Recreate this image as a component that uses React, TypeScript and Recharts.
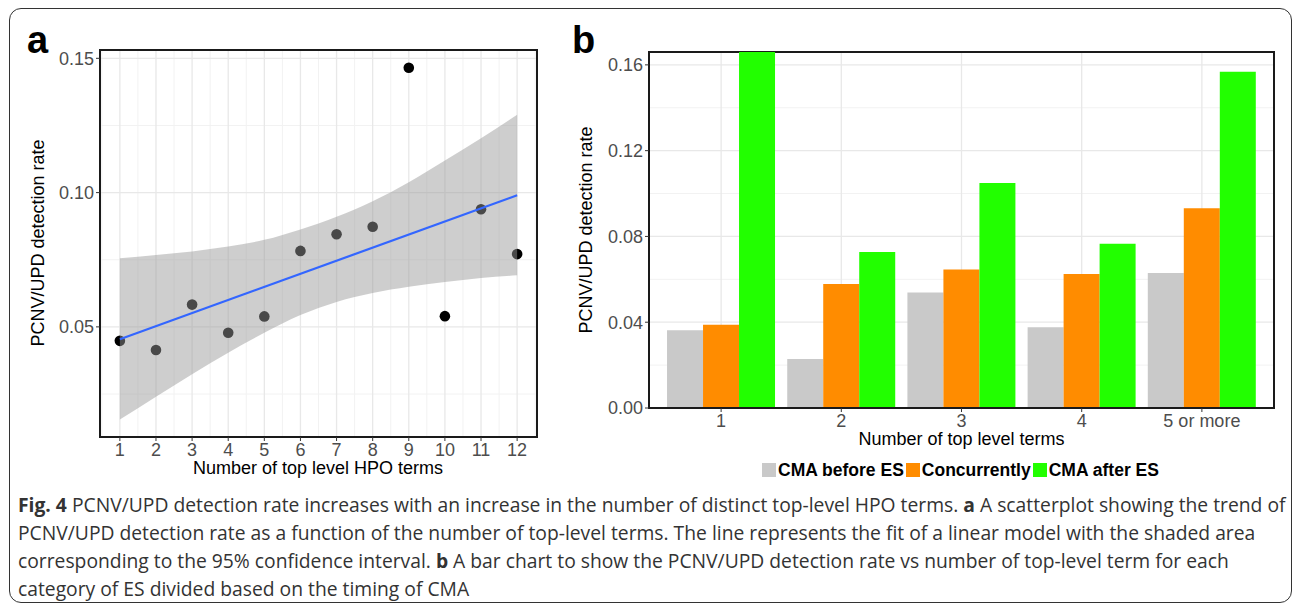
import React from 'react';
import {
  ComposedChart,
  BarChart,
  Bar,
  Scatter,
  Area,
  Line,
  XAxis,
  YAxis,
  CartesianGrid,
  ReferenceArea,
} from 'recharts';

// ---------- Panel a: scatterplot ----------
const hpoTerms = [1, 2, 3, 4, 5, 6, 7, 8, 9, 10, 11, 12];
const detectionRate = [0.0448, 0.0414, 0.0583, 0.0478, 0.0539, 0.0783, 0.0845, 0.0873, 0.1465, 0.054, 0.0938, 0.0771];
const ciLower = [0.0155, 0.024, 0.0324, 0.0404, 0.0478, 0.0544, 0.0593, 0.0626, 0.0649, 0.0667, 0.0682, 0.0692];
const ciUpper = [0.0756, 0.0768, 0.0781, 0.0799, 0.0824, 0.0863, 0.091, 0.0968, 0.1039, 0.112, 0.1202, 0.129];
const fitTerms = [1, 12];
const fitValues = [0.0454, 0.099];

const scatterXDomain = [0.45, 12.55];
const scatterYDomain = [0.009, 0.1531];
const scatterYTicks = [0.05, 0.1, 0.15];
const scatterYMinor = [0.025, 0.075, 0.125];
const scatterXMinor = [0.5, 1.5, 2.5, 3.5, 4.5, 5.5, 6.5, 7.5, 8.5, 9.5, 10.5, 11.5, 12.5];

// ---------- Panel b: bar chart ----------
const termCategories = ['1', '2', '3', '4', '5 or more'];
const categoryPositions = [1, 2, 3, 4, 5];
const cmaBefore = [0.0362, 0.0228, 0.0538, 0.0376, 0.0629];
const concurrently = [0.0388, 0.0578, 0.0646, 0.0625, 0.0931];
const cmaAfter = [0.166, 0.0727, 0.1049, 0.0766, 0.1568];
const seriesNames = ['CMA before ES', 'Concurrently', 'CMA after ES'];
const seriesKeys = ['before', 'conc', 'after'];
const seriesColors = ['#C9C9C9', '#FF8C00', '#22FF00'];
const barXDomain = [0.4, 5.6];
const barYDomain = [0, 0.166];
const barYTicks = [0, 0.04, 0.08, 0.12, 0.16];
const barYMinor = [0.02, 0.06, 0.1, 0.14];

const captionLines = [
  [
    { b: true, t: 'Fig. 4' },
    { b: false, t: ' PCNV/UPD detection rate increases with an increase in the number of distinct top-level HPO terms. ' },
    { b: true, t: 'a' },
    { b: false, t: ' A scatterplot showing the trend of' },
  ],
  [{ b: false, t: 'PCNV/UPD detection rate as a function of the number of top-level terms. The line represents the fit of a linear model with the shaded area' }],
  [
    { b: false, t: 'corresponding to the 95% confidence interval. ' },
    { b: true, t: 'b' },
    { b: false, t: ' A bar chart to show the PCNV/UPD detection rate vs number of top-level term for each' },
  ],
  [{ b: false, t: 'category of ES divided based on the timing of CMA' }],
];

const scatterData = hpoTerms.map((t, i) => ({
  term: t,
  rate: detectionRate[i],
  lo: ciLower[i],
  hi: ciUpper[i],
  fit: fitTerms.indexOf(t) >= 0 ? fitValues[fitTerms.indexOf(t)] : null,
}));

const barData = termCategories.map((c, i) => ({
  pos: categoryPositions[i],
  cat: c,
  before: cmaBefore[i],
  conc: concurrently[i],
  after: cmaAfter[i],
}));

const FONT = "'Liberation Sans', Arial, Helvetica, sans-serif";
const tickStyle = { fill: '#4D4D4D', fontSize: 18, fontFamily: FONT };
const tickLineStyle = { stroke: '#333333', strokeWidth: 1 };
const frame = { stroke: '#1A1A1A', strokeWidth: 2 };
const fmt2 = (v: number) => v.toFixed(2);
const catLabel = (v: number) => termCategories[categoryPositions.indexOf(v)] ?? '';

const abs = (left: number, top: number, extra: React.CSSProperties = {}): React.CSSProperties => ({
  position: 'absolute',
  left,
  top,
  ...extra,
});

function RotatedTitle({ x, y, text }: { x: number; y: number; text: string }) {
  return (
    <div
      style={abs(x, y, {
        transform: 'translate(-50%, -50%) rotate(-90deg)',
        whiteSpace: 'nowrap',
        fontFamily: FONT,
        fontSize: 18,
        color: '#000',
        lineHeight: '20px',
      })}
    >
      {text}
    </div>
  );
}

function CenterTitle({ x, y, text }: { x: number; y: number; text: string }) {
  return (
    <div
      style={abs(x, y, {
        transform: 'translate(-50%, -50%)',
        whiteSpace: 'nowrap',
        fontFamily: FONT,
        fontSize: 18,
        color: '#000',
        lineHeight: '20px',
      })}
    >
      {text}
    </div>
  );
}

export default function App() {
  const areaProps: any = { zIndex: 700 };
  const lineProps: any = { zIndex: 800 };
  return (
    <div style={abs(0, 0, { width: 1293, height: 605, background: '#fff', overflow: 'hidden' })}>
      {/* outer frame */}
      <div
        style={abs(9, 8, {
          width: 1283,
          height: 595,
          boxSizing: 'border-box',
          border: '1.5px solid #333',
          borderRadius: 12,
        })}
      />

      {/* Panel a */}
      <div style={abs(0, 0)}>
        <ComposedChart width={560} height={490} data={scatterData} margin={{ top: 50, right: 23, bottom: 23, left: 40 }}>
          <CartesianGrid
            horizontalValues={scatterYMinor}
            verticalValues={scatterXMinor}
            stroke="#F2F2F2"
            strokeWidth={1}
          />
          <CartesianGrid
            horizontalValues={scatterYTicks}
            verticalValues={hpoTerms}
            stroke="#E8E8E8"
            strokeWidth={1.3}
          />
          <XAxis
            dataKey="term"
            type="number"
            domain={scatterXDomain}
            ticks={hpoTerms}
            allowDataOverflow
            height={30}
            tick={tickStyle}
            tickSize={4}
            tickMargin={2}
            tickLine={tickLineStyle}
            axisLine={frame}
            interval={0}
          />
          <YAxis
            type="number"
            domain={scatterYDomain}
            ticks={scatterYTicks}
            allowDataOverflow
            width={60}
            tick={tickStyle}
            tickFormatter={fmt2}
            tickSize={4}
            tickMargin={2}
            tickLine={tickLineStyle}
            axisLine={frame}
          />
          <Scatter
            dataKey="rate"
            isAnimationActive={false}
            shape={(p: any) => <circle cx={p.cx} cy={p.cy} r={5.3} fill="#000" />}
          />
          <Area
            {...areaProps}
            dataKey={(d: any) => [d.lo, d.hi]}
            type="monotone"
            stroke="none"
            fill="#999999"
            fillOpacity={0.48}
            isAnimationActive={false}
            activeDot={false}
          />
          <Line
            {...lineProps}
            dataKey="fit"
            type="linear"
            connectNulls
            stroke="#3366FF"
            strokeWidth={2.2}
            dot={false}
            activeDot={false}
            isAnimationActive={false}
          />
          <ReferenceArea
            x1={scatterXDomain[0]}
            x2={scatterXDomain[1]}
            y1={scatterYDomain[0]}
            y2={scatterYDomain[1]}
            fill="none"
            fillOpacity={0}
            stroke="#1A1A1A"
            strokeWidth={2}
            ifOverflow="visible"
          />
        </ComposedChart>
      </div>

      {/* Panel b */}
      <div style={abs(560, 0)}>
        <BarChart
          width={733}
          height={500}
          data={barData}
          margin={{ top: 52, right: 19, bottom: 62, left: 29 }}
          barCategoryGap="5%"
          barGap={0}
        >
          <CartesianGrid horizontalValues={barYMinor} vertical={false} stroke="#F2F2F2" strokeWidth={1} />
          <CartesianGrid
            horizontalValues={barYTicks}
            verticalValues={categoryPositions}
            stroke="#E8E8E8"
            strokeWidth={1.3}
          />
          <XAxis
            dataKey="pos"
            type="number"
            domain={barXDomain}
            ticks={categoryPositions}
            allowDataOverflow
            tickFormatter={catLabel}
            height={30}
            tick={tickStyle}
            tickSize={4}
            tickMargin={2}
            tickLine={tickLineStyle}
            axisLine={frame}
            interval={0}
          />
          <YAxis
            type="number"
            domain={barYDomain}
            ticks={barYTicks}
            allowDataOverflow
            width={60}
            tick={tickStyle}
            tickFormatter={fmt2}
            tickSize={4}
            tickMargin={2}
            tickLine={tickLineStyle}
            axisLine={frame}
          />
          {seriesKeys.map((k, i) => (
            <Bar key={k} dataKey={k} name={seriesNames[i]} fill={seriesColors[i]} isAnimationActive={false} />
          ))}
          <ReferenceArea
            x1={barXDomain[0]}
            x2={barXDomain[1]}
            y1={barYDomain[0]}
            y2={barYDomain[1]}
            fill="none"
            fillOpacity={0}
            stroke="#1A1A1A"
            strokeWidth={2}
            ifOverflow="visible"
          />
        </BarChart>
      </div>

      {/* Panel letters */}
      <div style={abs(27, 20.8, { fontFamily: FONT, fontWeight: 'bold', fontSize: 38, lineHeight: '38px' })}>a</div>
      <div style={abs(572, 20.8, { fontFamily: FONT, fontWeight: 'bold', fontSize: 38, lineHeight: '38px' })}>b</div>

      {/* Axis titles */}
      <RotatedTitle x={37.5} y={243} text="PCNV/UPD detection rate" />
      <CenterTitle x={318} y={468} text="Number of top level HPO terms" />
      <RotatedTitle x={586} y={230} text="PCNV/UPD detection rate" />
      <CenterTitle x={961.5} y={439} text="Number of top level terms" />

      {/* Legend for panel b */}
      <div
        style={abs(649, 461, {
          width: 625,
          display: 'flex',
          justifyContent: 'center',
          alignItems: 'center',
          fontFamily: FONT,
          fontWeight: 'bold',
          fontSize: 17.5,
          lineHeight: '18px',
          color: '#000',
        })}
      >
        {seriesNames.map((n, i) => (
          <div key={n} style={{ display: 'flex', alignItems: 'center', marginRight: 2 }}>
            <span style={{ display: 'inline-block', width: 14, height: 14, background: seriesColors[i], marginRight: 2 }} />
            <span style={{ whiteSpace: 'nowrap' }}>{n}</span>
          </div>
        ))}
      </div>

      {/* Caption */}
      <div
        style={abs(18, 490.7, {
          fontFamily: "'Open Sans', 'Noto Sans', sans-serif",
          fontSize: 19.3,
          lineHeight: '28px',
          color: '#333',
          whiteSpace: 'nowrap',
        })}
      >
        {captionLines.map((line, li) => (
          <div key={li}>
            {line.map((seg, si) => (
              <span key={si} style={{ fontWeight: seg.b ? 'bold' : 'normal' }}>
                {seg.t}
              </span>
            ))}
          </div>
        ))}
      </div>
    </div>
  );
}
